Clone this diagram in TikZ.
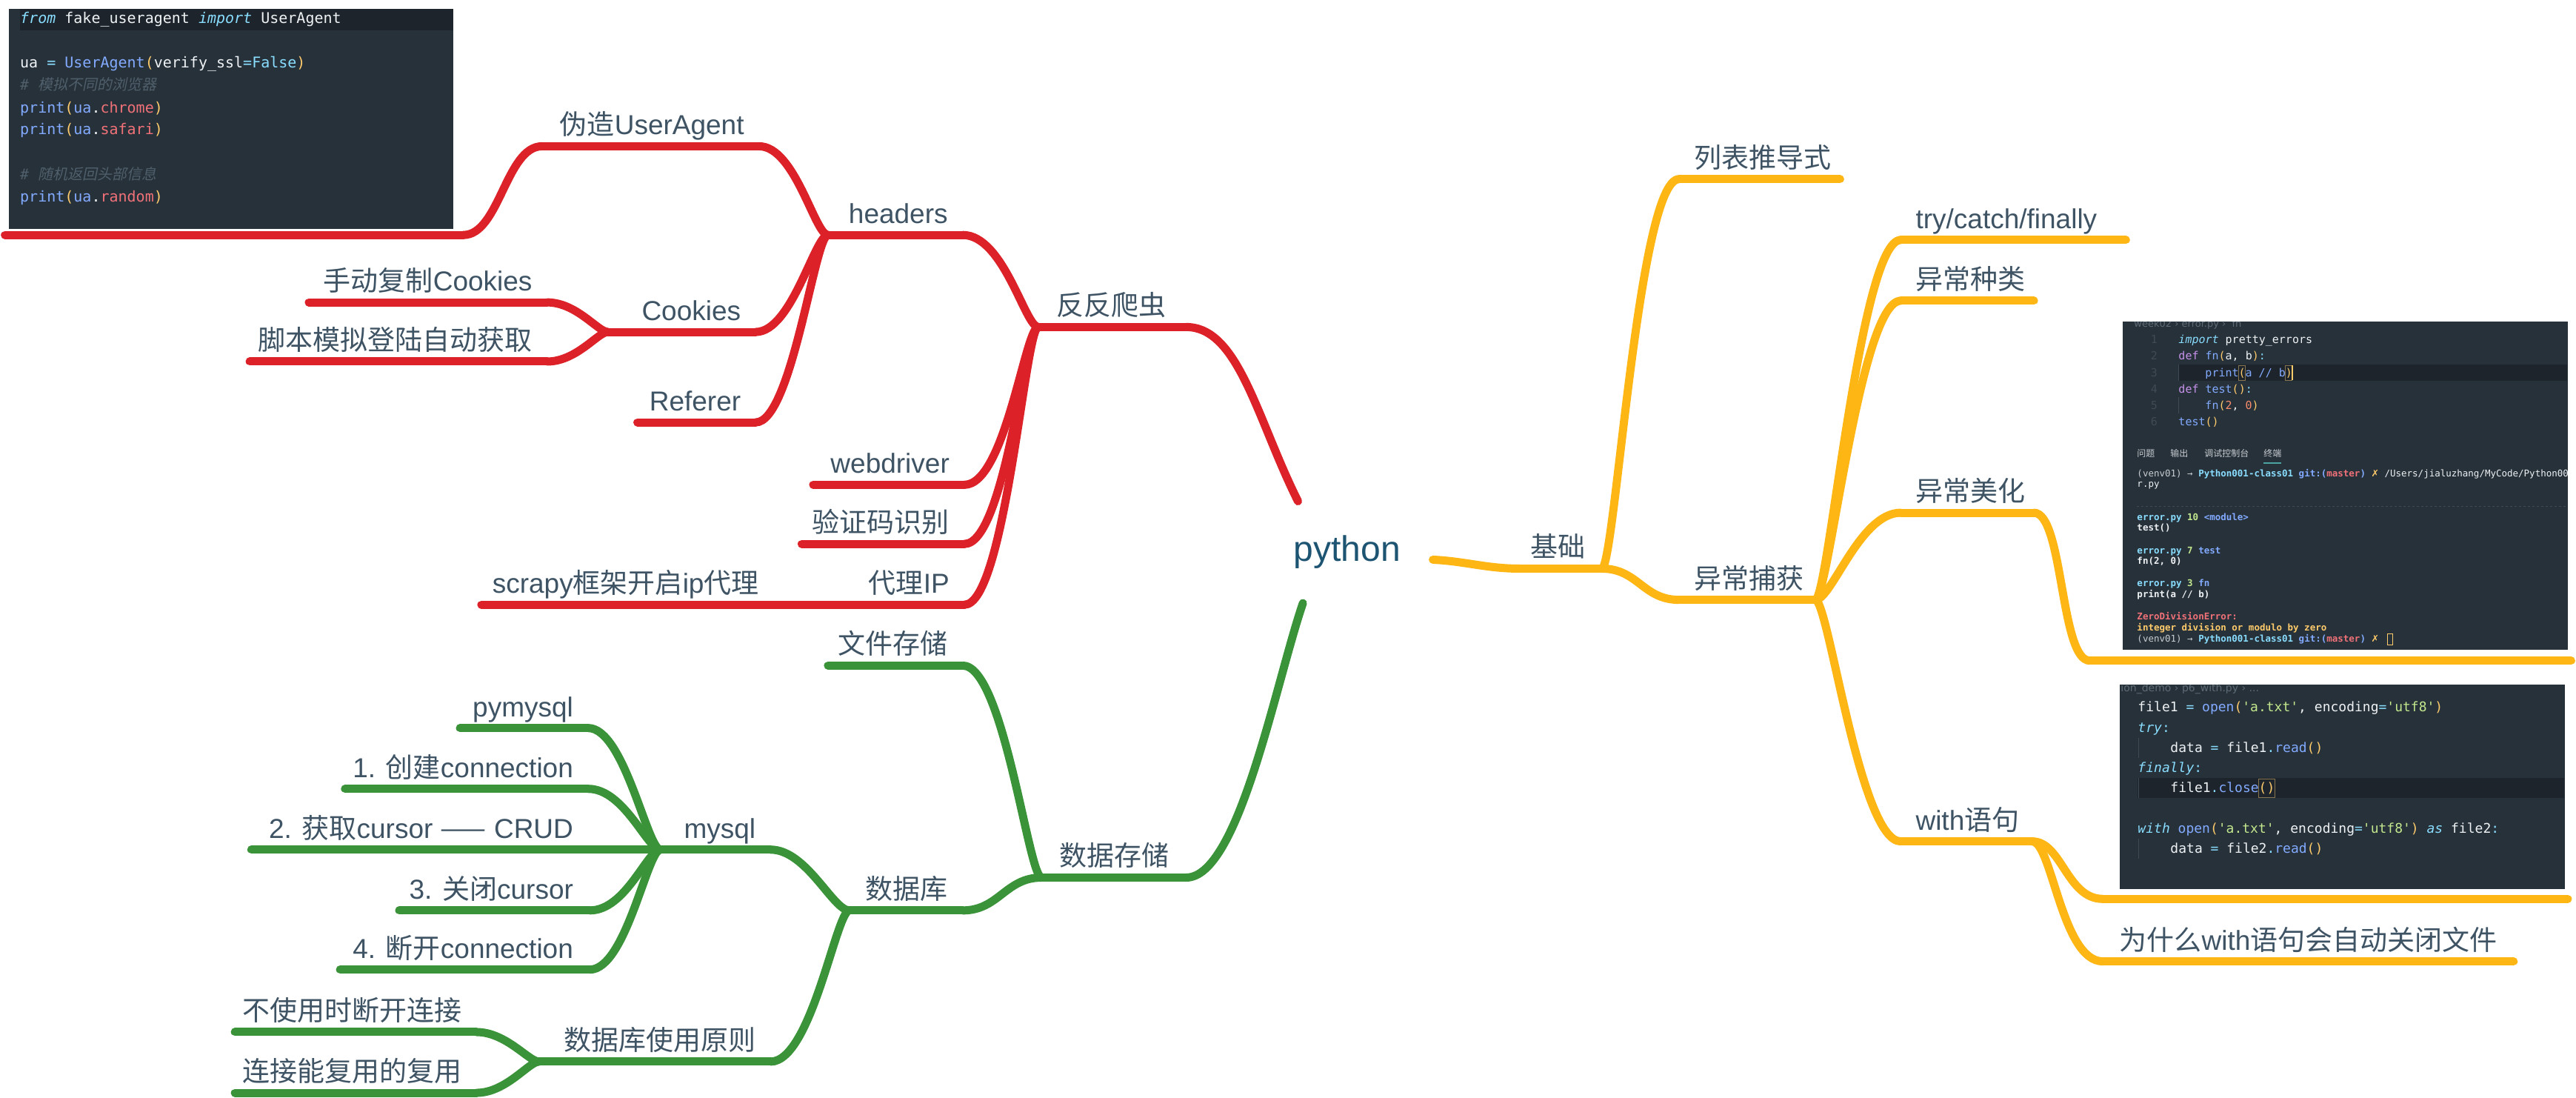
\documentclass[tikz,border=0pt]{standalone}
\usepackage{fontspec}
\setmainfont{Liberation Sans}
\newfontfamily\cjk{Noto Sans CJK SC}
\newfontfamily\cjkslant[FakeSlant=0.2]{Noto Sans CJK SC}
\newfontfamily\codefont[Ligatures=TeXOff]{DejaVu Sans Mono}
\newfontfamily\symfont{DejaVu Sans}
\definecolor{mmred}{HTML}{DC2128}
\definecolor{mmgreen}{HTML}{3A9338}
\definecolor{mmyellow}{HTML}{FDB614}
\definecolor{ink}{HTML}{3E5364}
\definecolor{rootink}{HTML}{1D5472}
\definecolor{codebg}{HTML}{27313A}
\definecolor{codehl}{HTML}{1D242B}
\definecolor{ckw}{HTML}{89DDFF}
\definecolor{cfn}{HTML}{82AAFF}
\definecolor{cbr}{HTML}{FFCB6B}
\definecolor{cprop}{HTML}{F07178}
\definecolor{cstr}{HTML}{C3E88D}
\definecolor{cnum}{HTML}{F78C6C}
\definecolor{cdef}{HTML}{C792EA}
\definecolor{ccom}{HTML}{4F5F6B}
\definecolor{cplain}{HTML}{EEF2F4}
\definecolor{cgut}{HTML}{3E4A54}
\definecolor{cgray}{HTML}{5D6B77}
\definecolor{cterm}{HTML}{C8CDD1}
\definecolor{cteal}{HTML}{4DA3A0}

\begin{document}
\begin{tikzpicture}[x=2.218pt, y=-2.218pt,
  topic/.style={font=\fontsize{37}{42}\selectfont, text=ink, inner sep=0pt},
  tl/.style={topic, anchor=base east},
  tr/.style={topic, anchor=base west},
  redbranch/.style={draw=mmred, line width=11pt, line cap=round},
  greenbranch/.style={draw=mmgreen, line width=11pt, line cap=round},
  yellowbranch/.style={draw=mmyellow, line width=11pt, line cap=round},
  codebox/.style={fill=codebg, draw=none, inner sep=0pt, anchor=north west},
  code/.style={anchor=base west, inner sep=0pt, text=cplain}]
  \fill[white] (0,0) rectangle (1568,668);
  \useasboundingbox (0,0) rectangle (1568,668);

  % root
  \node[font=\fontsize{48}{54}\selectfont, text=rootink, minimum width=231pt, minimum height=137pt, inner sep=0pt] (python) at (820,336) {python};

  % ---- red: anti-crawler
  \coordinate (fan-l) at (632,199);      \coordinate (fan-r) at (722,199);
  \coordinate (headers-l) at (504,143);  \coordinate (headers-r) at (586,143);
  \coordinate (ua-l) at (330,89);        \coordinate (ua-r) at (462,89);
  \coordinate (uacode-l) at (3,143);     \coordinate (uacode-r) at (282,143);
  \coordinate (cookies-l) at (370,202);  \coordinate (cookies-r) at (460,202);
  \coordinate (manual-l) at (188,184);   \coordinate (manual-r) at (333,184);
  \coordinate (script-l) at (152,220);   \coordinate (script-r) at (333,220);
  \coordinate (referer-l) at (388,257);  \coordinate (referer-r) at (460,257);
  \coordinate (webdriver-l) at (495,295);\coordinate (webdriver-r) at (587,295);
  \coordinate (captcha-l) at (488,331);  \coordinate (captcha-r) at (587,331);
  \coordinate (proxy-l) at (470,368);    \coordinate (proxy-r) at (587,368);
  \coordinate (scrapy-l) at (293,368);   \coordinate (scrapy-r) at (470,368);

  \node[tr] (fan) at (643,192) {\cjk 反反爬虫};
  \node[tl] (headers) at (577,136) {headers};
  \node[tl] (ua) at (453,82) {{\cjk 伪造}UserAgent};
  \node[tl] (cookies) at (451,195) {Cookies};
  \node[tl] (manual) at (324,177) {{\cjk 手动复制}Cookies};
  \node[tl] (script) at (324,213) {\cjk 脚本模拟登陆自动获取};
  \node[tl] (referer) at (451,250) {Referer};
  \node[tl] (webdriver) at (578,288) {webdriver};
  \node[tl] (captcha) at (578,324) {\cjk 验证码识别};
  \node[tl] (proxy) at (578,361) {{\cjk 代理}IP};
  \node[tl] (scrapy) at (462,361) {scrapy{\cjk 框架开启}ip{\cjk 代理}};

  \draw[redbranch] (fan-l) -- (fan-r) (headers-l) -- (headers-r) (ua-l) -- (ua-r)
    (uacode-l) -- (uacode-r) (cookies-l) -- (cookies-r) (manual-l) -- (manual-r)
    (script-l) -- (script-r) (referer-l) -- (referer-r) (webdriver-l) -- (webdriver-r)
    (captcha-l) -- (captcha-r) (scrapy-l) -- (scrapy-r) (proxy-l) -- (proxy-r);
  \draw[redbranch] (fan-r) .. controls +(32,0) and +(-25,-50) .. (python.134);
  \draw[redbranch] (fan-l) .. controls +(-8,0) and +(25,0) .. (headers-r);
  \draw[redbranch] (fan-l) .. controls +(-8,0) and +(25,0) .. (webdriver-r);
  \draw[redbranch] (fan-l) .. controls +(-8,0) and +(25,0) .. (captcha-r);
  \draw[redbranch] (fan-l) .. controls +(-8,0) and +(25,0) .. (proxy-r);
  \draw[redbranch] (headers-l) .. controls +(-8,0) and +(22,0) .. (ua-r);
  \draw[redbranch] (headers-l) .. controls +(-8,0) and +(22,0) .. (cookies-r);
  \draw[redbranch] (headers-l) .. controls +(-8,0) and +(22,0) .. (referer-r);
  \draw[redbranch] (ua-l) .. controls +(-22,0) and +(22,0) .. (uacode-r);
  \draw[redbranch] (cookies-l) .. controls +(-6,0) and +(18,0) .. (manual-r);
  \draw[redbranch] (cookies-l) .. controls +(-6,0) and +(18,0) .. (script-r);

  % ---- green: storage
  \coordinate (store-l) at (634,534);    \coordinate (store-r) at (722,534);
  \coordinate (file-l) at (504,405);     \coordinate (file-r) at (586,405);
  \coordinate (db-l) at (517,554);       \coordinate (db-r) at (586,554);
  \coordinate (mysql-l) at (402,517);    \coordinate (mysql-r) at (469,517);
  \coordinate (pymysql-l) at (280,443);  \coordinate (pymysql-r) at (358,443);
  \coordinate (conn-l) at (210,480);     \coordinate (conn-r) at (358,480);
  \coordinate (cursor-l) at (153,517);   \coordinate (cursor-r) at (402,517);
  \coordinate (close-l) at (243,554);    \coordinate (close-r) at (359,554);
  \coordinate (disc-l) at (207,590);     \coordinate (disc-r) at (359,590);
  \coordinate (rule-l) at (328,646);     \coordinate (rule-r) at (469,646);
  \coordinate (ruleA-l) at (143,628);    \coordinate (ruleA-r) at (290,628);
  \coordinate (ruleB-l) at (143,665);    \coordinate (ruleB-r) at (290,665);

  \node[tr] (store) at (645,527) {\cjk 数据存储};
  \node[tl] (file) at (577,398) {\cjk 文件存储};
  \node[tl] (db) at (577,547) {\cjk 数据库};
  \node[tl] (mysql) at (460,510) {mysql};
  \node[tl] (pymysql) at (349,436) {pymysql};
  \node[tl] (conn) at (349,473) {1. {\cjk 创建}connection};
  \node[tl] (cursor) at (349,510) {2. {\cjk 获取}cursor {\cjk ——} CRUD};
  \node[tl] (close) at (349,547) {3. {\cjk 关闭}cursor};
  \node[tl] (disc) at (349,583) {4. {\cjk 断开}connection};
  \node[tl] (rule) at (460,639) {\cjk 数据库使用原则};
  \node[tl] (ruleA) at (281,621) {\cjk 不使用时断开连接};
  \node[tl] (ruleB) at (281,658) {\cjk 连接能复用的复用};

  \draw[greenbranch] (store-l) -- (store-r) (file-l) -- (file-r) (db-l) -- (db-r)
    (mysql-l) -- (mysql-r) (pymysql-l) -- (pymysql-r) (conn-l) -- (conn-r)
    (cursor-l) -- (cursor-r) (close-l) -- (close-r) (disc-l) -- (disc-r)
    (rule-l) -- (rule-r) (ruleA-l) -- (ruleA-r) (ruleB-l) -- (ruleB-r);
  \draw[greenbranch] (store-r) .. controls +(32,0) and +(-17,50) .. (python.229);
  \draw[greenbranch] (store-l) .. controls +(-8,0) and +(25,0) .. (file-r);
  \draw[greenbranch] (store-l) .. controls +(-22,0) and +(22,0) .. (db-r);
  \draw[greenbranch] (db-l) .. controls +(-10,0) and +(22,0) .. (mysql-r);
  \draw[greenbranch] (db-l) .. controls +(-8,0) and +(25,0) .. (rule-r);
  \draw[greenbranch] (mysql-l) .. controls +(-8,0) and +(22,0) .. (pymysql-r);
  \draw[greenbranch] (mysql-l) .. controls +(-8,0) and +(22,0) .. (conn-r);
  \draw[greenbranch] (mysql-l) .. controls +(-8,0) and +(22,0) .. (close-r);
  \draw[greenbranch] (mysql-l) .. controls +(-8,0) and +(22,0) .. (disc-r);
  \draw[greenbranch] (rule-l) .. controls +(-6,0) and +(18,0) .. (ruleA-r);
  \draw[greenbranch] (rule-l) .. controls +(-6,0) and +(18,0) .. (ruleB-r);

  % ---- yellow: basics
  \coordinate (basic-l) at (925,346);    \coordinate (basic-r) at (975,346);
  \coordinate (listc-l) at (1022,109);   \coordinate (listc-r) at (1120,109);
  \coordinate (exc-l) at (1022,365);     \coordinate (exc-r) at (1105,365);
  \coordinate (try-l) at (1157,146);     \coordinate (try-r) at (1294,146);
  \coordinate (kind-l) at (1157,183);    \coordinate (kind-r) at (1238,183);
  \coordinate (pretty-l) at (1157,312);  \coordinate (pretty-r) at (1238,312);
  \coordinate (errcode-l) at (1272,402); \coordinate (errcode-r) at (1565,402);
  \coordinate (with-l) at (1157,512);    \coordinate (with-r) at (1237,512);
  \coordinate (withcode-l) at (1280,547);\coordinate (withcode-r) at (1563,547);
  \coordinate (why-l) at (1280,585);     \coordinate (why-r) at (1530,585);

  \node[tl] (basic) at (965,339) {\cjk 基础};
  \node[tr] (listc) at (1031,102) {\cjk 列表推导式};
  \node[tr] (exc) at (1031,358) {\cjk 异常捕获};
  \node[tr] (try) at (1166,139) {try/catch/finally};
  \node[tr] (kind) at (1166,176) {\cjk 异常种类};
  \node[tr] (pretty) at (1166,305) {\cjk 异常美化};
  \node[tr] (with) at (1166,505) {with{\cjk 语句}};
  \node[tr] (why) at (1290,578) {{\cjk 为什么}with{\cjk 语句会自动关闭文件}};

  \draw[yellowbranch] (basic-l) -- (basic-r) (listc-l) -- (listc-r) (exc-l) -- (exc-r)
    (try-l) -- (try-r) (kind-l) -- (kind-r) (pretty-l) -- (pretty-r)
    (errcode-l) -- (errcode-r) (with-l) -- (with-r) (withcode-l) -- (withcode-r)
    (why-l) -- (why-r);
  \draw[yellowbranch] (python.355) .. controls +(20,1) and +(-20,0) .. (basic-l);
  \draw[yellowbranch] (basic-r) .. controls +(8,0) and +(-25,0) .. (listc-l);
  \draw[yellowbranch] (basic-r) .. controls +(22,0) and +(-22,0) .. (exc-l);
  \draw[yellowbranch] (exc-r) .. controls +(8,0) and +(-25,0) .. (try-l);
  \draw[yellowbranch] (exc-r) .. controls +(8,0) and +(-25,0) .. (kind-l);
  \draw[yellowbranch] (exc-r) .. controls +(10,0) and +(-25,0) .. (pretty-l);
  \draw[yellowbranch] (exc-r) .. controls +(8,0) and +(-25,0) .. (with-l);
  \draw[yellowbranch] (pretty-r) .. controls +(18,0) and +(-18,0) .. (errcode-l);
  \draw[yellowbranch] (with-r) .. controls +(18,0) and +(-22,0) .. (withcode-l);
  \draw[yellowbranch] (with-r) .. controls +(12,0) and +(-25,0) .. (why-l);

  % ---- code screenshot: fake_useragent
  \node[codebox, minimum width=600pt, minimum height=297pt] (uabox) at (5.4,5.4) {};
  \begin{scope}[shift={(5.4,5.4)}, x=1pt, y=-1pt, every node/.append style={font=\codefont\fontsize{20}{24}\selectfont}]
    \fill[codehl] (15,0) rectangle (600,29);
    \node[code] (ualine1) at (15,20) {{\color{ckw}\itshape from} fake\_useragent {\color{ckw}\itshape import} UserAgent};
    \node[code] (ualine2) at (15,80) {ua {\color{ckw}=} {\color{cfn}UserAgent}{\color{cbr}(}verify\_ssl{\color{ckw}=False}{\color{cbr})}};
    \node[code, text=ccom] (ualine3) at (15,110) {{\itshape\#} {\cjkslant 模拟不同的浏览器}};
    \node[code] (ualine4) at (15,141) {{\color{cfn}print}{\color{cbr}(}{\color{cfn}ua}.{\color{cprop}chrome}{\color{cbr})}};
    \node[code] (ualine5) at (15,170) {{\color{cfn}print}{\color{cbr}(}{\color{cfn}ua}.{\color{cprop}safari}{\color{cbr})}};
    \node[code, text=ccom] (ualine6) at (15,231) {{\itshape\#} {\cjkslant 随机返回头部信息}};
    \node[code] (ualine7) at (15,261) {{\color{cfn}print}{\color{cbr}(}{\color{cfn}ua}.{\color{cprop}random}{\color{cbr})}};
  \end{scope}

  % ---- code screenshot: pretty_errors
  \node[codebox, minimum width=600pt, minimum height=443pt] (errbox) at (1292.2,195.7) {};
  \begin{scope}[shift={(1292.2,195.7)}, x=1pt, y=-1pt, every node/.append style={font=\codefont\fontsize{15}{18}\selectfont}]
    \clip (0,0) rectangle (600,443);
    \fill[codehl] (75,58) rectangle (600,80);
    \draw[cgut, line width=0.8pt] (75,58) -- (75,80) (75,102) -- (75,124);
    \node[code, text=cgray, font=\symfont\fontsize{13}{15}\selectfont] (errpath) at (15,7) {week02 › error.py ›\ \ fn};
    \node[code, anchor=base, text=cgut] (eln1) at (42,29) {1};
    \node[code, anchor=base, text=cgut] (eln2) at (42,51) {2};
    \node[code, anchor=base, text=cgut] (eln3) at (42,74) {3};
    \node[code, anchor=base, text=cgut] (eln4) at (42,96) {4};
    \node[code, anchor=base, text=cgut] (eln5) at (42,118) {5};
    \node[code, anchor=base, text=cgut] (eln6) at (42,140) {6};
    \node[code] (errline1) at (75,29) {{\color{ckw}\itshape import} pretty\_errors};
    \node[code] (errline2) at (75,51) {{\color{cdef}def} {\color{cfn}fn}{\color{cbr}(}a, b{\color{cbr})}{\color{ckw}:}};
    \node[code] (errline3) at (111,74) {{\color{cfn}print}{\color{cbr}(}{\color{cfn}a // b}{\color{cbr})}};
    \node[code] (errline4) at (75,96) {{\color{cdef}def} {\color{cfn}test}{\color{cbr}()}{\color{ckw}:}};
    \node[code] (errline5) at (111,118) {{\color{cfn}fn}{\color{cbr}(}{\color{cnum}2}, {\color{cnum}0}{\color{cbr})}};
    \node[code] (errline6) at (75,140) {{\color{cfn}test}{\color{cbr}()}};
    \draw[cbr!45!codebg, line width=0.8pt] (156,59) rectangle (165,79) (219,59) rectangle (228,79);
    \draw[cbr, line width=1.5pt] (228.5,59) -- (228.5,79);
    \node[code, text=cterm, font=\cjk\fontsize{12}{14}\selectfont] (tab1) at (19,182) {问题};
    \node[code, text=cterm, font=\cjk\fontsize{12}{14}\selectfont] (tab2) at (64,182) {输出};
    \node[code, text=cterm, font=\cjk\fontsize{12}{14}\selectfont] (tab3) at (110,182) {调试控制台};
    \node[code, text=cterm, font=\cjk\fontsize{12}{14}\selectfont] (tab4) at (190,182) {终端};
    \draw[cteal, line width=1.5pt] (190,191) -- (214,191);
    \begin{scope}[every node/.append style={font=\codefont\fontsize{12.5}{15}\selectfont}]
      \node[code] (term1) at (19,209) {{\color{cterm}(venv01) →} {\bfseries\color{ckw}Python001-class01} {\bfseries\color{cfn}git:(}{\bfseries\color{cprop}master}{\bfseries\color{cfn})} {\color{cbr}\symfont ✗} /Users/jialuzhang/MyCode/Python001};
      \node[code] (term2) at (19,223) {r.py};
      \draw[cgut, line width=1pt, dashed] (19,249) -- (600,249);
      \node[code] (term3) at (19,268) {\bfseries{\color{ckw}error.py} {\color{cstr}10} {\color{cfn}<module>}};
      \node[code] (term4) at (19,282) {\bfseries test()};
      \node[code] (term5) at (19,313) {\bfseries{\color{ckw}error.py} {\color{cstr}7} {\color{cfn}test}};
      \node[code] (term6) at (19,327) {\bfseries fn(2, 0)};
      \node[code] (term7) at (19,357) {\bfseries{\color{ckw}error.py} {\color{cstr}3} {\color{cfn}fn}};
      \node[code] (term8) at (19,372) {\bfseries print(a // b)};
      \node[code, text=cprop] (term9) at (19,402) {\bfseries ZeroDivisionError:};
      \node[code, text=cbr] (term10) at (19,417) {\bfseries integer division or modulo by zero};
      \node[code] (term11) at (19,432) {{\color{cterm}(venv01) →} {\bfseries\color{ckw}Python001-class01} {\bfseries\color{cfn}git:(}{\bfseries\color{cprop}master}{\bfseries\color{cfn})} {\color{cbr}\symfont ✗}};
    \end{scope}
    \draw[cbr, line width=1.2pt] (357,421) rectangle (364,436);
  \end{scope}

  % ---- code screenshot: with
  \node[codebox, minimum width=600pt, minimum height=276pt] (withbox) at (1290.4,416.6) {};
  \begin{scope}[shift={(1290.4,416.6)}, x=1pt, y=-1pt, every node/.append style={font=\codefont\fontsize{18}{22}\selectfont}]
    \clip (0,0) rectangle (600,276);
    \fill[codehl] (24,126) rectangle (600,153);
    \draw[cgut, line width=0.8pt] (25,72) -- (25,99) (25,126) -- (25,153) (25,208) -- (25,235);
    \node[code, text=cgray, font=\symfont\fontsize{14}{16}\selectfont] (withpath) at (1,9) {ion\_demo › p6\_with.py › ...};
    \node[code] (withline1) at (24,36) {file1 {\color{ckw}=} {\color{cfn}open}{\color{cbr}(}{\color{cstr}'a.txt'}, encoding{\color{ckw}=}{\color{cstr}'utf8'}{\color{cbr})}};
    \node[code] (withline2) at (24,64) {{\color{ckw}\itshape try}{\color{ckw}:}};
    \node[code] (withline3) at (68,91) {data {\color{ckw}=} file1{\color{ckw}.}{\color{cfn}read}{\color{cbr}()}};
    \node[code] (withline4) at (24,118) {{\color{ckw}\itshape finally}{\color{ckw}:}};
    \node[code] (withline5) at (68,145) {file1{\color{ckw}.}{\color{cfn}close}{\color{cbr}()}};
    \draw[cbr!45!codebg, line width=1pt] (187,127) rectangle (209,152);
    \node[code] (withline6) at (24,200) {{\color{ckw}\itshape with} {\color{cfn}open}{\color{cbr}(}{\color{cstr}'a.txt'}, encoding{\color{ckw}=}{\color{cstr}'utf8'}{\color{cbr})} {\color{ckw}\itshape as} file2{\color{ckw}:}};
    \node[code] (withline7) at (68,227) {data {\color{ckw}=} file2{\color{ckw}.}{\color{cfn}read}{\color{cbr}()}};
  \end{scope}
\end{tikzpicture}
\end{document}
